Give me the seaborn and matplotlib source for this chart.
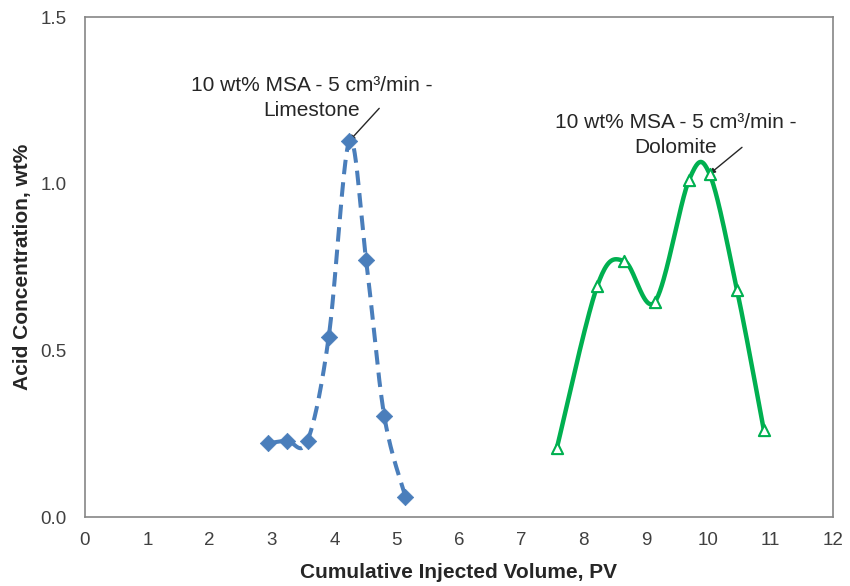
import numpy as np
import pandas as pd
import matplotlib
matplotlib.use("Agg")
import matplotlib.pyplot as plt
import seaborn as sns

# Effluent acid concentration vs. cumulative injected volume
lime_pv = [2.93, 3.24, 3.57, 3.91, 4.24, 4.51, 4.80, 5.14]
lime_conc = [0.221, 0.229, 0.229, 0.540, 1.128, 0.771, 0.304, 0.061]

dolo_pv = [7.57, 8.22, 8.65, 9.14, 9.69, 10.02, 10.46, 10.89]
dolo_conc = [0.207, 0.694, 0.768, 0.645, 1.011, 1.029, 0.681, 0.261]

x_ticks = list(range(0, 13))
y_ticks = [0.0, 0.5, 1.0, 1.5]

lime_label = "10 wt% MSA - 5 cm\u00b3/min -\nLimestone"
dolo_label = "10 wt% MSA - 5 cm\u00b3/min -\nDolomite"

BLUE = "#4A7EBB"
GREEN = "#00B050"
TEXT = "#262626"


def smooth(xs, ys, n=40):
    """Catmull-Rom style smoothed path through the points (spreadsheet 'smoothed line')."""
    p = np.column_stack([xs, ys]).astype(float)
    ext = np.vstack([p[0], p, p[-1]])
    out = []
    t = np.linspace(0, 1, n)[:, None]
    for i in range(1, len(ext) - 2):
        p0, p1, p2, p3 = ext[i - 1], ext[i], ext[i + 1], ext[i + 2]
        c1 = p1 + (p2 - p0) / 6.0
        c2 = p2 - (p3 - p1) / 6.0
        seg = ((1 - t) ** 3) * p1 + 3 * ((1 - t) ** 2) * t * c1 + 3 * (1 - t) * t ** 2 * c2 + t ** 3 * p2
        out.append(seg if i == 1 else seg[1:])
    path = np.vstack(out)
    return pd.DataFrame({"pv": path[:, 0], "conc": path[:, 1]})


sns.set_theme(style="white")
plt.rcParams["font.family"] = ["Liberation Sans", "DejaVu Sans"]

fig = plt.figure(figsize=(8.5, 5.86), dpi=100)
ax = fig.add_axes([85 / 850, 1 - 517 / 586, 748 / 850, 500 / 586])

lime_df = pd.DataFrame({"pv": lime_pv, "conc": lime_conc})
dolo_df = pd.DataFrame({"pv": dolo_pv, "conc": dolo_conc})

sns.lineplot(data=smooth(lime_pv, lime_conc), x="pv", y="conc", sort=False, ax=ax,
             color=BLUE, linewidth=2.9, linestyle=(0, (3.6, 2.0)))
sns.scatterplot(data=lime_df, x="pv", y="conc", ax=ax, marker="D", s=70,
                color=BLUE, edgecolor=BLUE, linewidth=0.5, zorder=5)

sns.lineplot(data=smooth(dolo_pv, dolo_conc), x="pv", y="conc", sort=False, ax=ax,
             color=GREEN, linewidth=3.2)
sns.scatterplot(data=dolo_df, x="pv", y="conc", ax=ax, marker="^", s=65,
                facecolor="white", edgecolor=GREEN, linewidth=1.5, zorder=5)

ax.set_xlim(0, 12)
ax.set_ylim(0, 1.5)
ax.set_xticks(x_ticks)
ax.set_yticks(y_ticks)
ax.set_xticklabels([str(v) for v in x_ticks])
ax.set_yticklabels([f"{v:.1f}" for v in y_ticks])
ax.tick_params(axis="both", direction="in", length=4, width=1, color="#868686",
               labelsize=13.5, labelcolor="#404040")
ax.tick_params(axis="x", pad=11)
ax.tick_params(axis="y", pad=13)

for side in ["left", "right", "top", "bottom"]:
    ax.spines[side].set_visible(True)
    ax.spines[side].set_color("#868686")
    ax.spines[side].set_linewidth(1.2)

ax.set_xlabel("Cumulative Injected Volume, PV", fontsize=15, fontweight="bold",
              color=TEXT, labelpad=10)
ax.set_ylabel("Acid Concentration, wt%", fontsize=15, fontweight="bold",
              color=TEXT, labelpad=6)

# Series labels with leader arrows to the peak points
ax.text(3.63, 1.258, lime_label, ha="center", va="center", fontsize=15,
        color=TEXT, linespacing=1.38)
ax.annotate("", xy=(lime_pv[4], lime_conc[4]), xytext=(4.72, 1.226),
            arrowprops=dict(arrowstyle="-|>", color=TEXT, lw=1.0,
                            mutation_scale=8, shrinkA=0, shrinkB=0))

ax.text(9.48, 1.145, dolo_label, ha="center", va="center", fontsize=15,
        color=TEXT, linespacing=1.38)
ax.annotate("", xy=(dolo_pv[5], dolo_conc[5]), xytext=(10.54, 1.109),
            arrowprops=dict(arrowstyle="-|>", color=TEXT, lw=1.0,
                            mutation_scale=8, shrinkA=0, shrinkB=0))

fig.savefig("out.png", dpi=100, facecolor="white")
